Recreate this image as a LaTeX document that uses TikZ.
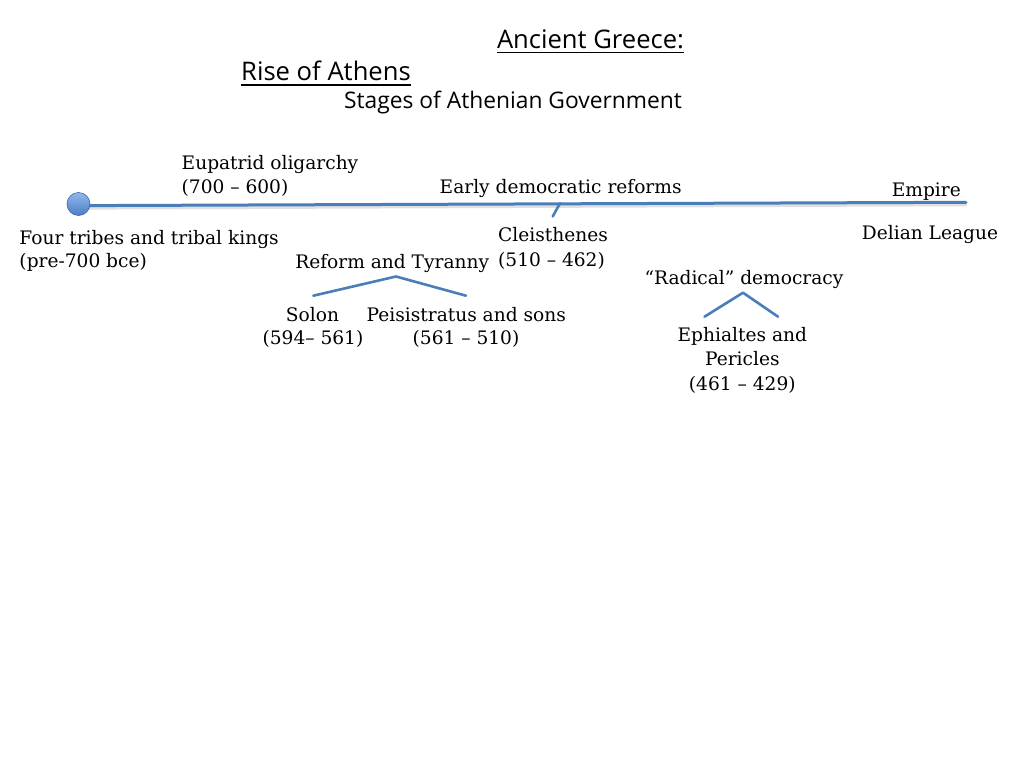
\documentclass[tikz,border=0pt]{standalone}
\usepackage{fontspec}
\setmainfont{DejaVu Serif}
\newfontfamily\titlefont{Open Sans}
\definecolor{tl}{HTML}{4A7EBB}
\definecolor{tlb}{HTML}{3C6AA5}
\definecolor{ctop}{HTML}{93B8EA}
\definecolor{cbot}{HTML}{4A7EC6}
\begin{document}
\begin{tikzpicture}[x=1pt,y=-1pt,
  lbl/.style={inner sep=0pt, anchor=base west, font=\fontsize{18.6}{22}\selectfont, text=black},
  lblc/.style={lbl, anchor=base},
  ttl/.style={inner sep=0pt, anchor=base, font=\titlefont\fontsize{25.6}{30}\selectfont},
  ttls/.style={ttl, font=\titlefont\fontsize{22.8}{27}\selectfont},
  tline/.style={draw=tl, line width=3pt, line cap=round},
  shade/.style={draw=black, opacity=0.12, line width=3pt, line cap=round},
  brk/.style={draw=tl, line width=2.6pt, line cap=round, line join=round},
  uline/.style={line width=1.3pt}]
\useasboundingbox[fill=white] (0,0) rectangle (1024,768);

% titles
\node[ttl] (t1) at (590.5,48.3) {Ancient Greece:};
\node[ttl] (t2) at (326,80.7) {Rise of Athens};
\node[ttls] (t3) at (513,108.3) {Stages of Athenian Government};
\draw[uline] ([yshift=-4pt]t1.base west) -- ([yshift=-4pt]t1.base east);
\draw[uline] ([yshift=-4.3pt]t2.base west) -- ([yshift=-4.3pt]t2.base east);

% timeline
\coordinate (lineStart) at (88,205.6);
\coordinate (end) at (966,202.3);
\draw[shade] ([yshift=-2.5pt]lineStart) -- ([yshift=-2.5pt]end);
\draw[tline] (lineStart) -- (end);
\node[circle, minimum size=23pt, inner sep=0pt, draw=tlb, line width=0.6pt,
      top color=ctop, bottom color=cbot] (start) at (78.5,204) {};

% tick for Cleisthenes
\coordinate (tickTop) at (560,203.2);
\coordinate (tickBot) at (552.7,216.5);
\draw[brk] (tickTop) -- (tickBot);

% brackets
\coordinate (b1l) at (313.3,295.7);
\coordinate (b1a) at (396,276.5);
\coordinate (b1r) at (466,295.7);
\draw[brk] (b1l) -- (b1a) -- (b1r);
\coordinate (b2l) at (704.5,316.7);
\coordinate (b2a) at (743,292.7);
\coordinate (b2r) at (778,316.7);
\draw[brk] (b2l) -- (b2a) -- (b2r);

% labels
\node[lbl] (eup1) at (181.5,169.3) {Eupatrid oligarchy};
\node[lbl] (eup2) at (181.5,193.3) {(700 – 600)};
\node[lbl] (four1) at (19.3,244) {Four tribes and tribal kings};
\node[lbl] (four2) at (19.3,267.5) {(pre-700 bce)};
\node[lbl] (early) at (439.5,193) {Early democratic reforms};
\node[lblc] (emp) at (926.3,196.7) {Empire};
\node[lblc] (del) at (930,239.3) {Delian League};
\node[lbl] (cl1) at (498,241.7) {Cleisthenes};
\node[lbl] (cl2) at (498,266) {(510 – 462)};
\node[lblc] (ref) at (392.2,268.3) {Reform and Tyranny};
\node[lblc] (sol1) at (312.5,321.7) {Solon};
\node[lblc] (sol2) at (313,344) {(594– 561)};
\node[lblc] (pei1) at (466.3,321.7) {Peisistratus and sons};
\node[lblc] (pei2) at (466,344) {(561 – 510)};
\node[lblc] (rad) at (744,284) {“Radical” democracy};
\node[lblc] (eph1) at (742.3,341.7) {Ephialtes and};
\node[lblc] (eph2) at (742.3,365.7) {Pericles};
\node[lblc] (eph3) at (742.3,390) {(461 – 429)};
\end{tikzpicture}
\end{document}
